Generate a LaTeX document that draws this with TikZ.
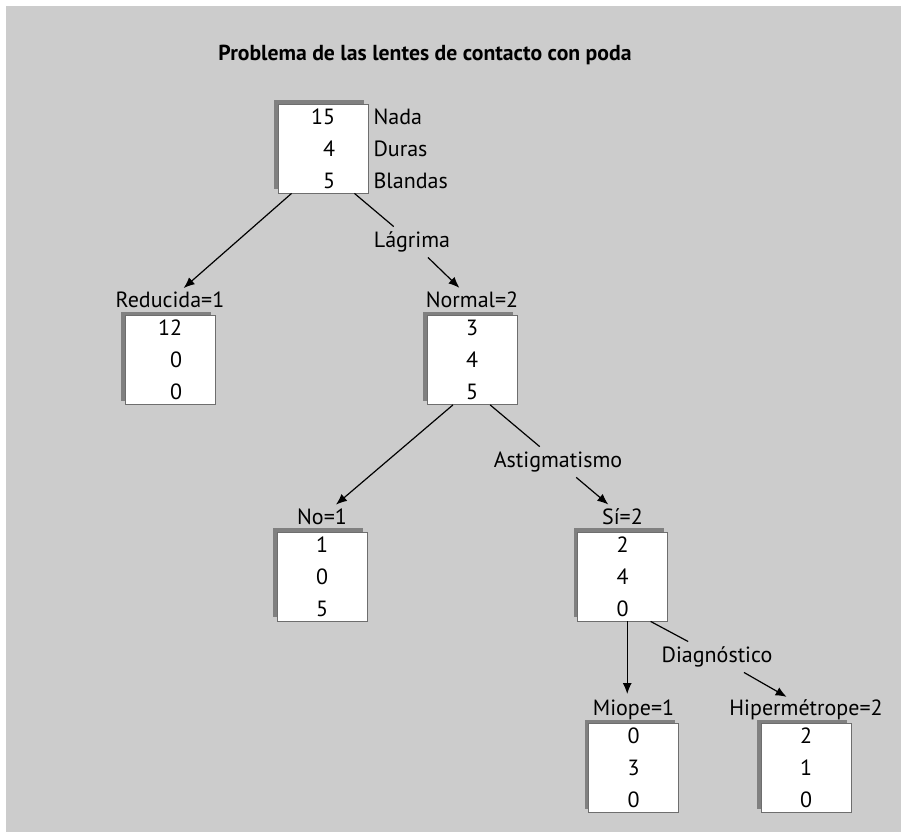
\documentclass[tikz,border=0pt]{standalone}
\usepackage{fontspec}
\setmainfont{PT Sans}
\usetikzlibrary{arrows.meta,calc,positioning,shadows}

\definecolor{bggray}{HTML}{CCCCCC}
\definecolor{shadowgray}{HTML}{808080}
\definecolor{boxline}{HTML}{6E6E6E}

\tikzset{
  counts/.style={draw=boxline, line width=0.8pt, fill=white,
    minimum width=90pt, minimum height=89pt, inner sep=0pt, align=right,
    font=\fontsize{22}{32}\selectfont,
    drop shadow={shadow xshift=-4pt, shadow yshift=4pt, fill=shadowgray, opacity=1}},
  branch/.style={inner sep=0pt, text depth=0pt, font=\fontsize{22}{26}\selectfont},
  attr/.style={inner sep=5pt, font=\fontsize{22}{26}\selectfont},
  edge/.style={line width=1.2pt},
  arrow/.style={edge, -{Latex[length=11pt,width=9pt]}, shorten >=6pt},
}

\begin{document}
\begin{tikzpicture}[x=1pt, y=-1pt]
  \fill[bggray] (6,6) rectangle (901,832);
  \useasboundingbox (0,0) rectangle (901,832);

  \node[font=\bfseries\fontsize{21.7}{26}\selectfont] (title) at (425,55)
    {Problema de las lentes de contacto con poda};

  % boxes
  \node[counts] (root) at (323,148.5) {15\\4\\5};
  \node[right=5pt of root, inner sep=0pt, align=left,
    font=\fontsize{22}{32}\selectfont] (classes) {Nada\\Duras\\Blandas};
  \node[counts] (reducida) at (170,360) {12\\0\\0};
  \node[counts] (normal) at (472,360) {3\\4\\5};
  \node[counts] (no) at (322,576.5) {1\\0\\5};
  \node[counts] (si) at (622.5,576.5) {2\\4\\0};
  \node[counts] (miope) at (633.5,768) {0\\3\\0};
  \node[counts] (hiper) at (806,768) {2\\1\\0};

  % branch values
  \node[branch, above=7pt of reducida] (reducida-label) {Reducida=1};
  \node[branch, above=7pt of normal] (normal-label) {Normal=2};
  \node[branch, above=7pt of no] (no-label) {No=1};
  \node[branch, above=7pt of si] (si-label) {Sí=2};
  \node[branch, above=7pt of miope] (miope-label) {Miope=1};
  \node[branch, above=7pt of hiper] (hiper-label) {Hipermétrope=2};

  % attributes
  \node[attr] (lagrima) at (412,242) {Lágrima};
  \node[attr] (astig) at (558,462) {Astigmatismo};
  \node[attr] (diag) at (717,657) {Diagnóstico};

  \draw[arrow] (root.-125) -- (reducida-label);
  \draw[edge] (root.-55) -- (lagrima);
  \draw[arrow] (lagrima) -- (normal-label);

  \draw[arrow] (normal.-113) -- (no-label);
  \draw[edge] (normal.-68) -- (astig);
  \draw[arrow] (astig) -- (si-label);

  \draw[arrow] (si.-84) -- (si.-84 |- miope-label.north);
  \draw[edge] (si.-58) -- (diag);
  \draw[arrow] (diag) -- (hiper-label);
\end{tikzpicture}
\end{document}
